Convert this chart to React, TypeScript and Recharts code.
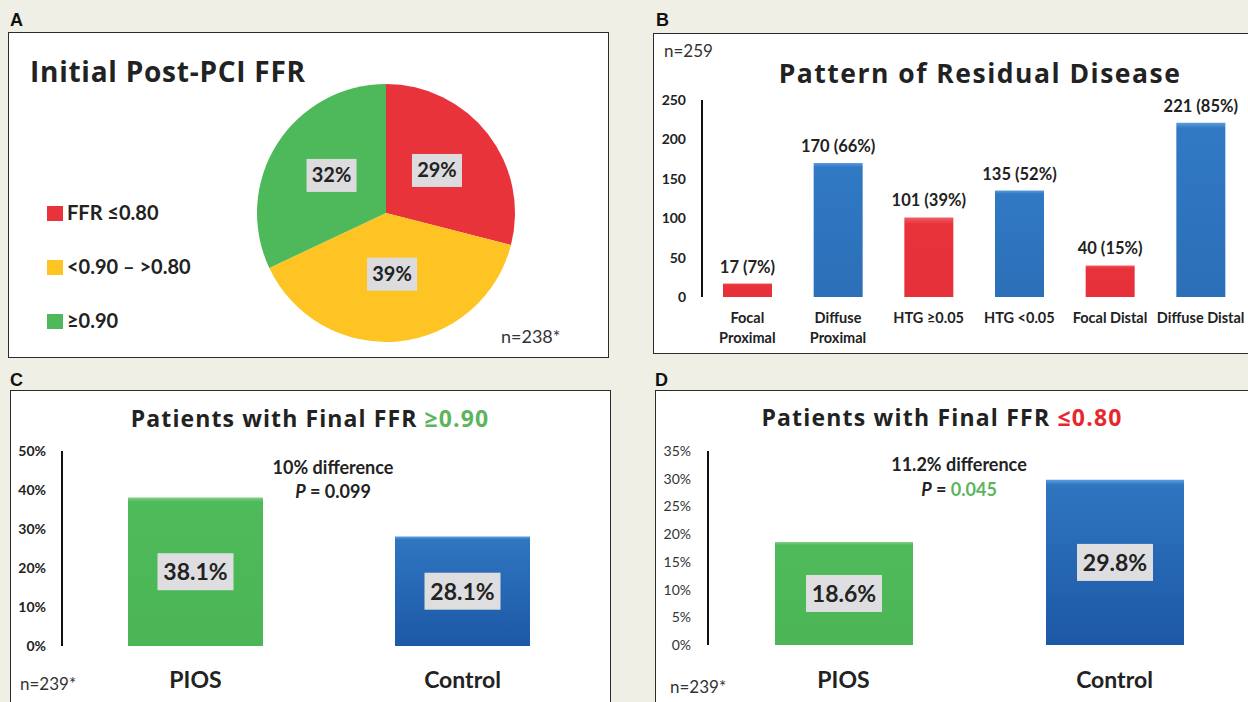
import React from 'react'
import { PieChart, Pie, Cell, BarChart, Bar, XAxis, YAxis, LabelList } from 'recharts'

const BG = '#f0efe5'
const RED = '#e9333b'
const YELLOW = '#fec423'
const GREEN = '#4db95a'
const TXT = '#222'
const SANS = 'Lato, "Open Sans", sans-serif'
const TITLE = '"Open Sans", sans-serif'

// A - initial post-PCI FFR
const ffrGroups = ['FFR ≤0.80', '<0.90 – >0.80', '≥0.90']
const ffrShares = [29, 39, 32]
const ffrColors = [RED, YELLOW, GREEN]

// B - pattern of residual disease
const patternNames = ['Focal\nProximal', 'Diffuse\nProximal', 'HTG ≥0.05', 'HTG <0.05', 'Focal Distal', 'Diffuse Distal']
const patternCounts = [17, 170, 101, 135, 40, 221]
const patternPct = [7, 66, 39, 52, 15, 85]
const patternFills = ['url(#bRed)', 'url(#bBlue)', 'url(#bRed)', 'url(#bBlue)', 'url(#bRed)', 'url(#bBlue)']
const patternTicks = [0, 50, 100, 150, 200, 250]

// C, D - final FFR by group
const groups = ['PIOS', 'Control']
const groupFills = ['url(#gGreen)', 'url(#gBlue)']
const finalHigh = [38.1, 28.1]
const finalLow = [18.6, 29.8]
const highTicks = [0, 10, 20, 30, 40, 50]
const lowTicks = [0, 5, 10, 15, 20, 25, 30, 35]

const ffrData = ffrGroups.map((name, i) => ({ name, share: ffrShares[i] }))
const patternData = patternNames.map((name, i) => ({
  name,
  count: patternCounts[i],
  label: `${patternCounts[i]} (${patternPct[i]}%)`,
}))
const highData = groups.map((name, i) => ({ name, value: finalHigh[i] }))
const lowData = groups.map((name, i) => ({ name, value: finalLow[i] }))

const RAD = Math.PI / 180

function PieBoxLabel(props: any) {
  const { cx, cy, midAngle, outerRadius, value } = props
  const r = outerRadius * 0.5
  const x = cx + r * Math.cos(-midAngle * RAD)
  const y = cy + r * Math.sin(-midAngle * RAD) - 3
  return (
    <g>
      <rect x={x - 25} y={y - 16.5} width={50} height={33} fill="#dcdcdf" />
      <text x={x} y={y + 7} textAnchor="middle" fontSize={20} fontWeight={700} fill={TXT} fontFamily={SANS}>
        {`${value}%`}
      </text>
    </g>
  )
}

function getBox(props: any) {
  const vb = props.viewBox && props.viewBox.width != null ? props.viewBox : props
  return { x: Number(vb.x), y: Number(vb.y), w: Number(vb.width), h: Number(vb.height) }
}

function BarBoxLabel(props: any) {
  const b = getBox(props)
  const cx = b.x + b.w / 2
  const cy = b.y + b.h / 2
  return (
    <g>
      <rect x={cx - 38} y={cy - 18.5} width={76} height={37} fill="#dedee1" />
      <text x={cx} y={cy + 8.3} textAnchor="middle" fontSize={23} fontWeight={700} fill={TXT} fontFamily={SANS}>
        {`${props.value}%`}
      </text>
    </g>
  )
}

function TopLabel(props: any) {
  const b = getBox(props)
  return (
    <text x={b.x + b.w / 2} y={b.y - 11} textAnchor="middle" fontSize={16.5} fontWeight={700} fill={TXT} fontFamily={SANS}>
      {props.value}
    </text>
  )
}

function PatternTick(props: any) {
  const { x, y, payload } = props
  const lines = String(payload.value).split('\n')
  return (
    <text x={x} y={y} textAnchor="middle" fontSize={14.5} fontWeight={700} fill={TXT} fontFamily={SANS}>
      {lines.map((l, i) => (
        <tspan key={i} x={x} dy={i === 0 ? 18 : 20}>{l}</tspan>
      ))}
    </text>
  )
}

function GroupTick(props: any) {
  const { x, y, payload, dy } = props
  return (
    <text x={x} y={y + dy} textAnchor="middle" fontSize={23} fontWeight={700} fill={TXT} fontFamily={SANS}>
      {payload.value}
    </text>
  )
}

const boxStyle: React.CSSProperties = {
  position: 'absolute',
  background: '#fff',
  border: '1.5px solid #2b2b2b',
  boxSizing: 'border-box',
}

function Gradients() {
  return (
    <defs>
      <linearGradient id="bBlue" x1="0" y1="0" x2="0" y2="1">
        <stop offset="0" stopColor="#5c9be0" />
        <stop offset="0.03" stopColor="#3179c3" />
        <stop offset="1" stopColor="#2b6fb8" />
      </linearGradient>
      <linearGradient id="bRed" x1="0" y1="0" x2="0" y2="1">
        <stop offset="0" stopColor="#f06068" />
        <stop offset="0.08" stopColor="#e9333b" />
        <stop offset="1" stopColor="#e6303a" />
      </linearGradient>
      <linearGradient id="gGreen" x1="0" y1="0" x2="0" y2="1">
        <stop offset="0" stopColor="#86cf88" />
        <stop offset="0.03" stopColor="#4eba5a" />
        <stop offset="1" stopColor="#4cb656" />
      </linearGradient>
      <linearGradient id="gBlue" x1="0" y1="0" x2="0" y2="1">
        <stop offset="0" stopColor="#5a9de0" />
        <stop offset="0.03" stopColor="#2f75c0" />
        <stop offset="1" stopColor="#1c58a6" />
      </linearGradient>
    </defs>
  )
}

export default function App() {
  return (
    <div style={{ position: 'fixed', left: 0, top: 0, width: 1248, height: 702, overflow: 'hidden', background: BG }}>
      <div style={{ ...boxStyle, left: 8, top: 32, width: 601, height: 326 }} />
      <div style={{ ...boxStyle, left: 653, top: 33, width: 620, height: 321 }} />
      <div style={{ ...boxStyle, left: 10, top: 390, width: 601, height: 340 }} />
      <div style={{ ...boxStyle, left: 655, top: 390, width: 620, height: 340 }} />

      {/* A */}
      <div style={{ position: 'absolute', left: 0, top: 0 }}>
        <PieChart width={620} height={360}>
          <Pie
            data={ffrData}
            dataKey="share"
            nameKey="name"
            cx={381}
            cy={208}
            outerRadius={129}
            startAngle={90}
            endAngle={-270}
            stroke="none"
            label={PieBoxLabel}
            labelLine={false}
            isAnimationActive={false}
          >
            {ffrData.map((d, i) => (
              <Cell key={d.name} fill={ffrColors[i]} />
            ))}
          </Pie>
        </PieChart>
      </div>

      {/* B */}
      <div style={{ position: 'absolute', left: 640, top: 0 }}>
        <BarChart width={620} height={360} data={patternData} margin={{ top: 100, right: 14, left: 0, bottom: 13 }}>
          <Gradients />
          <XAxis dataKey="name" axisLine={false} tickLine={false} height={50} interval={0} tick={(p: any) => <PatternTick {...p} />} />
          <YAxis
            domain={[0, 250]}
            ticks={patternTicks}
            width={62}
            axisLine={{ stroke: '#111', strokeWidth: 2 }}
            tickLine={false}
            tickMargin={10}
            tick={{ fill: TXT, fontSize: 14, fontWeight: 700, fontFamily: SANS }}
          />
          <Bar dataKey="count" barSize={49} isAnimationActive={false}>
            {patternData.map((d, i) => (
              <Cell key={d.name} fill={patternFills[i]} />
            ))}
            <LabelList dataKey="label" content={TopLabel} />
          </Bar>
        </BarChart>
      </div>

      {/* C */}
      <div style={{ position: 'absolute', left: 0, top: 365 }}>
        <BarChart width={620} height={337} data={highData} margin={{ top: 86, right: 24, left: 0, bottom: 10 }}>
          <Gradients />
          <XAxis dataKey="name" axisLine={false} tickLine={false} height={46} tick={(p: any) => <GroupTick {...p} dy={34} />} />
          <YAxis
            domain={[0, 50]}
            ticks={highTicks}
            width={62}
            axisLine={{ stroke: '#111', strokeWidth: 2 }}
            tickLine={false}
            tickMargin={10}
            tickFormatter={(v: number) => `${v}%`}
            tick={{ fill: TXT, fontSize: 14, fontWeight: 700, fontFamily: SANS }}
          />
          <Bar dataKey="value" barSize={135} isAnimationActive={false}>
            {highData.map((d, i) => (
              <Cell key={d.name} fill={groupFills[i]} />
            ))}
            <LabelList dataKey="value" content={BarBoxLabel} />
          </Bar>
        </BarChart>
      </div>

      {/* D */}
      <div style={{ position: 'absolute', left: 640, top: 365 }}>
        <BarChart width={620} height={337} data={lowData} margin={{ top: 86, right: 10, left: 0, bottom: 10 }}>
          <Gradients />
          <XAxis dataKey="name" axisLine={false} tickLine={false} height={47} tick={(p: any) => <GroupTick {...p} dy={35} />} />
          <YAxis
            domain={[0, 35]}
            ticks={lowTicks}
            width={68}
            axisLine={{ stroke: '#111', strokeWidth: 2 }}
            tickLine={false}
            tickMargin={11}
            tickFormatter={(v: number) => `${v}%`}
            tick={{ fill: '#333', fontSize: 14, fontWeight: 400, fontFamily: SANS }}
          />
          <Bar dataKey="value" barSize={138} isAnimationActive={false}>
            {lowData.map((d, i) => (
              <Cell key={d.name} fill={groupFills[i]} />
            ))}
            <LabelList dataKey="value" content={BarBoxLabel} />
          </Bar>
        </BarChart>
      </div>

      {/* titles, legend, notes */}
      <svg width={1248} height={702} style={{ position: 'absolute', left: 0, top: 0, pointerEvents: 'none' }}>
        <g fontFamily='"Liberation Sans", Arial, sans-serif' fontWeight={700} fontSize={18} fill="#111">
          <text x={10} y={26}>A</text>
          <text x={656} y={26}>B</text>
          <text x={10} y={386}>C</text>
          <text x={655} y={386}>D</text>
        </g>
        <g fontFamily={TITLE} fontWeight={700} fill={TXT}>
          <text x={30} y={82} fontSize={28} letterSpacing={0.75}>Initial Post-PCI FFR</text>
          <text x={980} y={83} fontSize={26.5} letterSpacing={1.5} textAnchor="middle">Pattern of Residual Disease</text>
          <text x={310} y={427} fontSize={23} letterSpacing={1.1} textAnchor="middle">
            Patients with Final FFR <tspan fill="#5bb55d">≥0.90</tspan>
          </text>
          <text x={942} y={426} fontSize={23} letterSpacing={1.2} textAnchor="middle">
            Patients with Final FFR <tspan fill="#e8262e">≤0.80</tspan>
          </text>
        </g>
        <g fontFamily={SANS}>
          {ffrGroups.map((g, i) => (
            <g key={g}>
              <rect x={47} y={206 + i * 54} width={16} height={15} fill={ffrColors[i]} />
              <text x={67} y={220 + i * 54} fontSize={20} fontWeight={700} fill={TXT}>{g}</text>
            </g>
          ))}
          <text x={501} y={343} fontSize={18} fill="#333">n=238*</text>
          <text x={664} y={57} fontSize={17} fill="#333">n=259</text>
          <text x={20} y={690} fontSize={17} fill="#333">n=239*</text>
          <text x={670} y={693} fontSize={17} fill="#333">n=239*</text>
          <text x={333} y={474} fontSize={18} fontWeight={700} fill={TXT} textAnchor="middle">10% difference</text>
          <text x={333} y={498} fontSize={18} fontWeight={700} fill={TXT} textAnchor="middle">
            <tspan fontStyle="italic">P</tspan> = 0.099
          </text>
          <text x={959} y={471} fontSize={18} fontWeight={700} fill={TXT} textAnchor="middle">11.2% difference</text>
          <text x={959} y={496} fontSize={18} fontWeight={700} fill={TXT} textAnchor="middle">
            <tspan fontStyle="italic">P</tspan> = <tspan fill="#5bb55d">0.045</tspan>
          </text>
        </g>
      </svg>
    </div>
  )
}
